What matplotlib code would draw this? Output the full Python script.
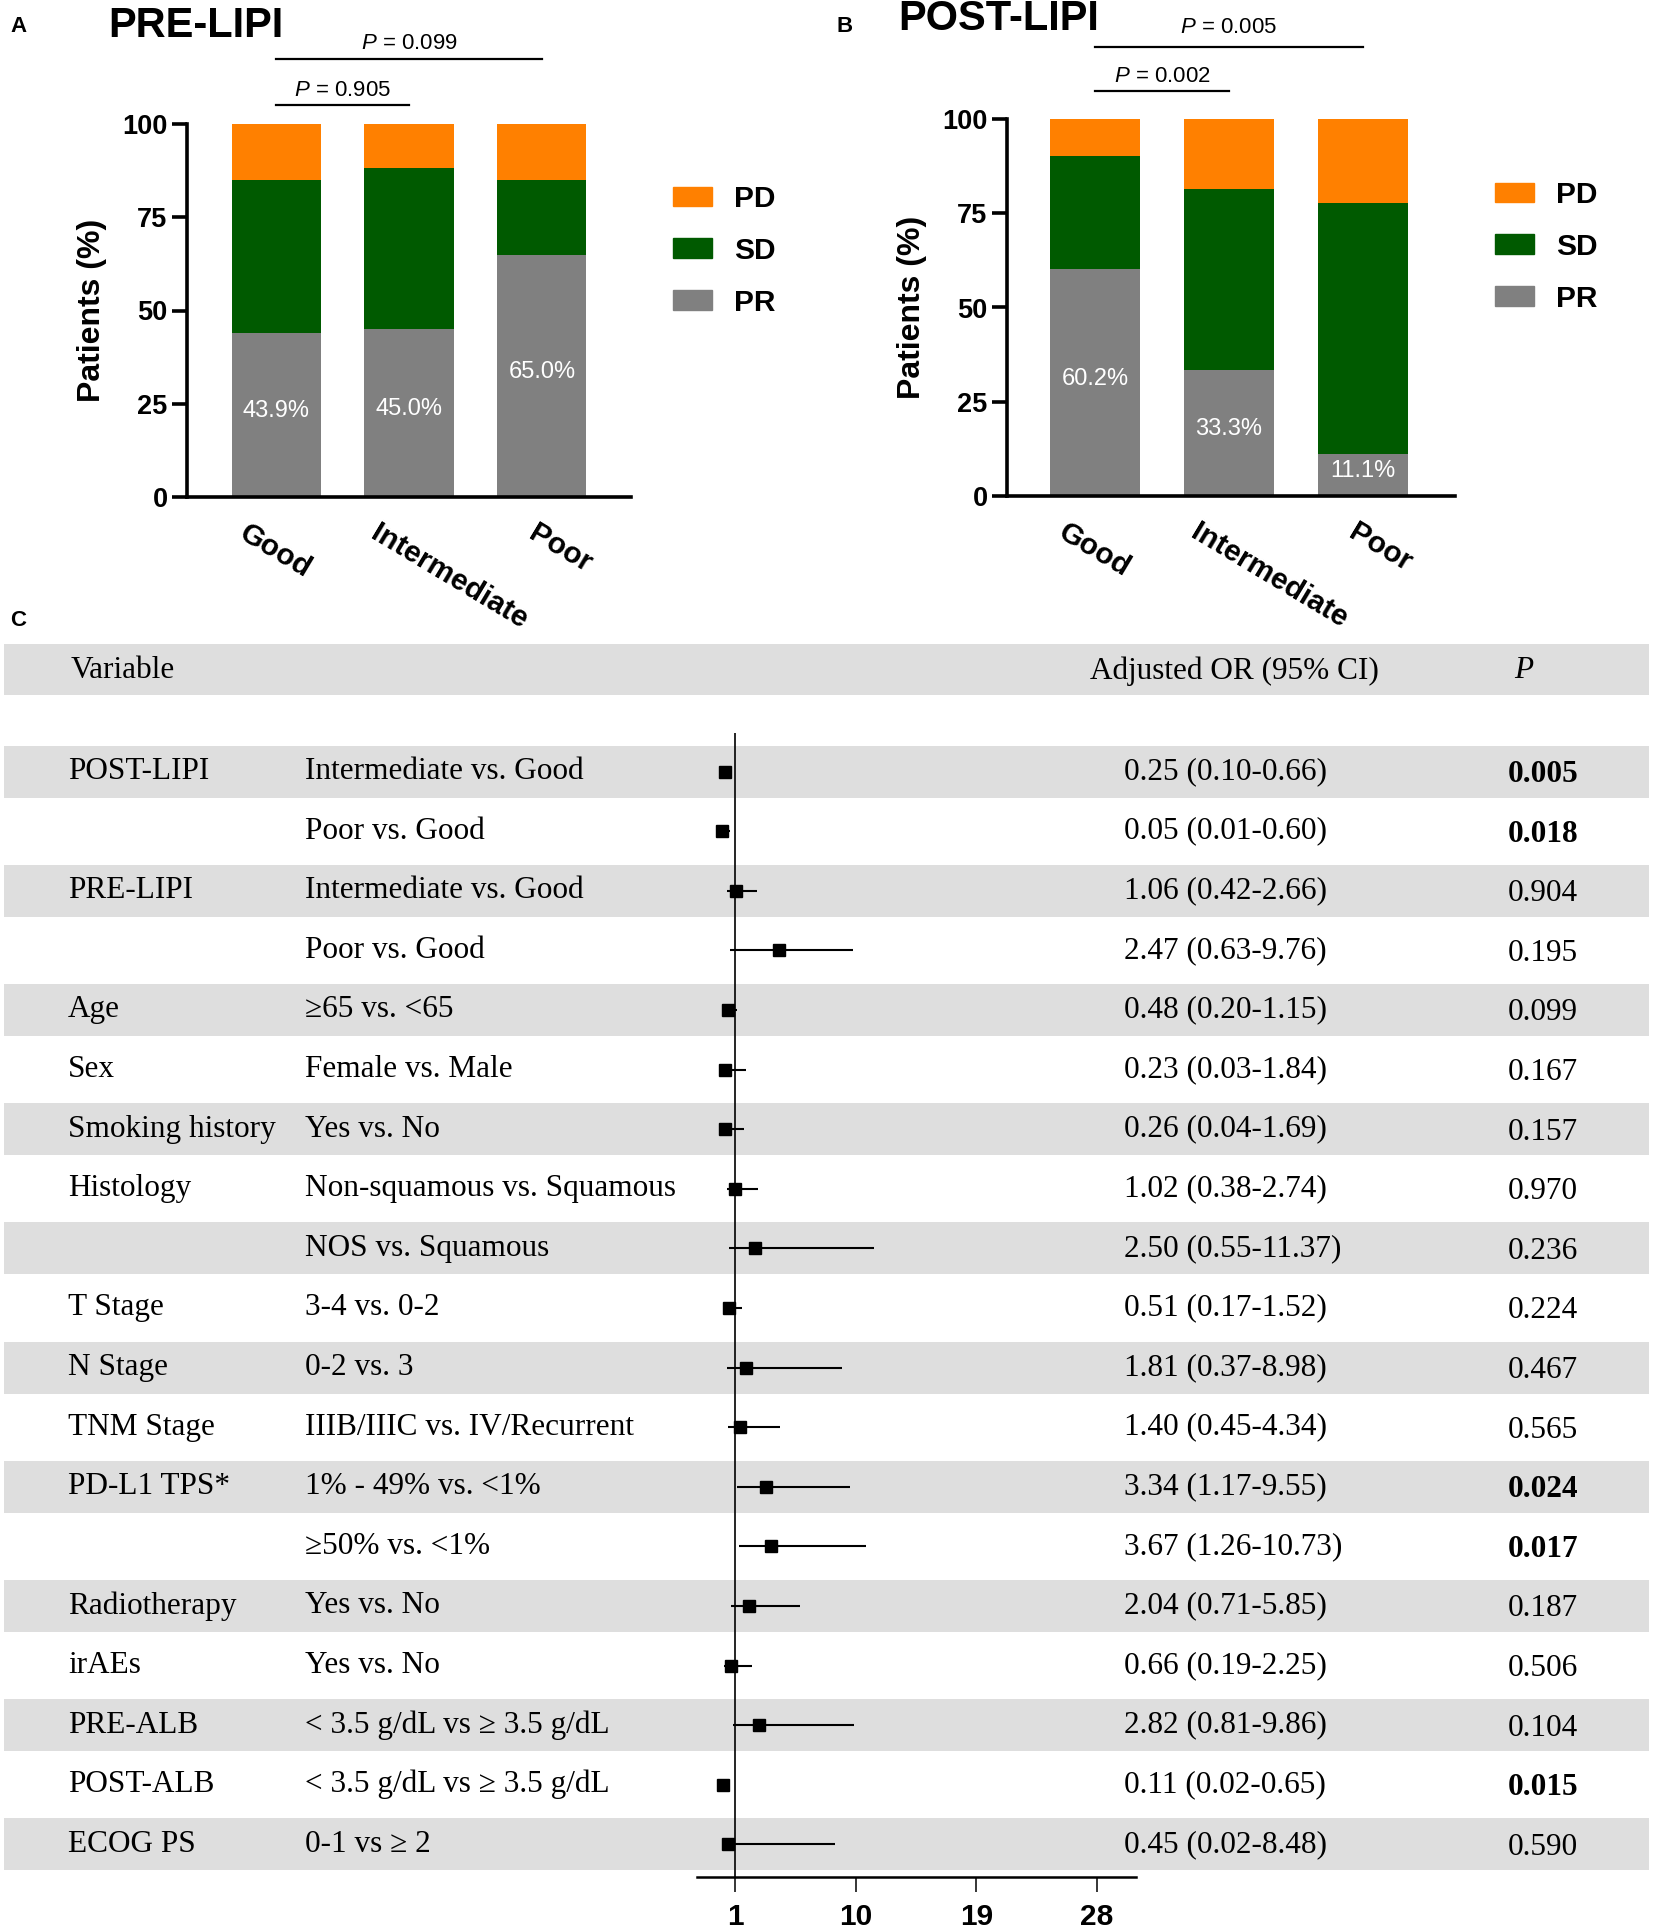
import numpy as np
import matplotlib
matplotlib.use("Agg")
import matplotlib.pyplot as plt
from matplotlib.patches import Rectangle, Patch
from matplotlib.transforms import ScaledTranslation

W, H = 1654, 1932
plt.rcParams.update({"font.family": ["Liberation Sans", "DejaVu Sans"],
                     "mathtext.fontset": "custom",
                     "mathtext.it": "Liberation Sans:italic",
                     "mathtext.rm": "Liberation Sans"})

# ---- panel A / B data (percent of patients) ----
groups = ["Good", "Intermediate", "Poor"]
pre_pr = [43.9, 45.0, 65.0]
pre_sd = [41.0, 43.1, 20.0]
pre_pd = [15.1, 11.9, 15.0]
post_pr = [60.2, 33.3, 11.1]
post_sd = [30.0, 48.1, 66.7]
post_pd = [9.8, 18.6, 22.2]
pre_pvals = [("0.905", 0, 1), ("0.099", 0, 2)]
post_pvals = [("0.002", 0, 1), ("0.005", 0, 2)]

# ---- panel C data ----
var_names = ["POST-LIPI", "", "PRE-LIPI", "", "Age", "Sex", "Smoking history",
             "Histology", "", "T Stage", "N Stage", "TNM Stage", "PD-L1 TPS*", "",
             "Radiotherapy", "irAEs", "PRE-ALB", "POST-ALB", "ECOG PS"]
comparisons = ["Intermediate vs. Good", "Poor vs. Good", "Intermediate vs. Good",
               "Poor vs. Good", "≥65 vs. <65", "Female vs. Male", "Yes vs. No",
               "Non-squamous vs. Squamous", "NOS vs. Squamous", "3-4 vs. 0-2",
               "0-2 vs. 3", "IIIB/IIIC vs. IV/Recurrent", "1% - 49% vs. <1%",
               "≥50% vs. <1%", "Yes vs. No", "Yes vs. No",
               "< 3.5 g/dL vs ≥ 3.5 g/dL", "< 3.5 g/dL vs ≥ 3.5 g/dL", "0-1 vs ≥ 2"]
or_est = [0.25, 0.05, 1.06, 2.47, 0.48, 0.23, 0.26, 1.02, 2.50, 0.51, 1.81,
          1.40, 3.34, 3.67, 2.04, 0.66, 2.82, 0.11, 0.45]
ci_low = [0.10, 0.01, 0.42, 0.63, 0.20, 0.03, 0.04, 0.38, 0.55, 0.17, 0.37,
          0.45, 1.17, 1.26, 0.71, 0.19, 0.81, 0.02, 0.02]
ci_high = [0.66, 0.60, 2.66, 9.76, 1.15, 1.84, 1.69, 2.74, 11.37, 1.52, 8.98,
           4.34, 9.55, 10.73, 5.85, 2.25, 9.86, 0.65, 8.48]
p_vals = ["0.005", "0.018", "0.904", "0.195", "0.099", "0.167", "0.157", "0.970",
          "0.236", "0.224", "0.467", "0.565", "0.024", "0.017", "0.187", "0.506",
          "0.104", "0.015", "0.590"]
# square for PRE-LIPI poor sits at ~4.3 in the source plot, not at 2.47
or_mark = list(or_est)
or_mark[3] = 4.3

C_PD, C_SD, C_PR = "#FF8000", "#005A00", "#808080"
BAND = "#DEDEDE"


def rect(l, t, r, b):
    return [l / W, 1 - b / H, (r - l) / W, (b - t) / H]


fig = plt.figure(figsize=(W / 100, H / 100), dpi=100)


def stacked(box, pr, sd, pd_, pvals, line_y, text_y, xlim, leg_xy, ylab_pad):
    ax = fig.add_axes(rect(*box))
    x = np.arange(len(groups))
    ax.bar(x, pr, 0.67, color=C_PR)
    ax.bar(x, sd, 0.67, bottom=pr, color=C_SD)
    ax.bar(x, pd_, 0.67, bottom=np.add(pr, sd), color=C_PD)
    for i, v in enumerate(pr):
        ax.text(i, v / 2 + 1.0, f"{v:.1f}%", color="white", ha="center",
                va="center", fontsize=17)
    ax.set_xlim(*xlim)
    ax.set_ylim(0, 100)
    ax.set_yticks([0, 25, 50, 75, 100])
    for s in ["top", "right"]:
        ax.spines[s].set_visible(False)
    for s in ["left", "bottom"]:
        ax.spines[s].set_linewidth(2.6)
    ax.tick_params(axis="y", length=11, width=2.6, labelsize=19.5, pad=3)
    ax.tick_params(axis="x", length=0, pad=16)
    for lb in ax.get_yticklabels():
        lb.set_fontweight("bold")
    ax.set_xticks(x, groups, rotation=-31, ha="left", rotation_mode="anchor",
                  fontsize=21.5, fontweight="bold")
    for lb, dx in zip(ax.get_xticklabels(), [-27, -29, -4]):
        lb.set_transform(lb.get_transform() + ScaledTranslation(dx / 100, 0, fig.dpi_scale_trans))
    ax.set_ylabel("Patients (%)", fontsize=23, fontweight="bold", labelpad=ylab_pad)
    for (txt, a, b), ly, ty in zip(pvals, line_y, text_y):
        ax.plot([a, b], [ly, ly], color="black", lw=1.6, clip_on=False)
        ax.text((a + b) / 2, ty, r"$P$ = " + txt, ha="center", va="center",
                fontsize=16, clip_on=False)
    handles = [Patch(color=C_PD, label="PD"), Patch(color=C_SD, label="SD"),
               Patch(color=C_PR, label="PR")]
    ax.legend(handles=handles, loc="upper left",
              bbox_to_anchor=(leg_xy[0] / W, 1 - leg_xy[1] / H),
              bbox_transform=fig.transFigure, frameon=False,
              prop={"size": 21.5, "weight": "bold"}, handlelength=1.3,
              handleheight=0.65, handletextpad=0.75, labelspacing=0.8,
              borderpad=0, borderaxespad=0)
    return ax


stacked((187, 124, 631, 497), pre_pr, pre_sd, pre_pd, pre_pvals,
        [105.1, 117.4], [109.0, 121.6], (-0.67, 2.67), (673, 185), 11)
stacked((1007, 119, 1455, 496), post_pr, post_sd, post_pd, post_pvals,
        [107.4, 119.1], [111.4, 124.4], (-0.66, 2.69), (1495, 181), 11)

fig.text(108 / W, 1 - 26 / H, "PRE-LIPI", fontsize=30, fontweight="bold", va="center")
fig.text(898 / W, 1 - 19 / H, "POST-LIPI", fontsize=30, fontweight="bold", va="center")
for lab, (px, py) in zip("ABC", [(10, 27), (836, 27), (10, 621)]):
    fig.text(px / W, 1 - py / H, lab, fontsize=16, fontweight="bold", va="center")

# ---- panel C: table + forest plot ----
ROW0, PITCH = 771.5, 59.6


def row_of(px):
    return (px - ROW0) / PITCH


serif = ["Liberation Serif", "DejaVu Serif"]
FS = 22.5
tab = fig.add_axes(rect(0, 600, W, H))
tab.set_xlim(0, W)
tab.set_ylim(row_of(H), row_of(600))
tab.axis("off")
tab.add_patch(Rectangle((4, row_of(644)), W - 9, 51 / PITCH, color=BAND, lw=0, zorder=0))
for i in range(0, len(var_names), 2):
    tab.add_patch(Rectangle((4, i - 26 / PITCH), W - 9, 52 / PITCH, color=BAND, lw=0, zorder=0))
hy = row_of(671)
tab.text(71, hy, "Variable", family=serif, fontsize=FS, va="center")
tab.text(1234, hy, "Adjusted OR (95% CI)", family=serif, fontsize=FS, va="center", ha="center")
tab.text(1524, hy, "P", family=serif, fontsize=FS, va="center", ha="center", style="italic")
for i in range(len(var_names)):
    tab.text(68, i, var_names[i], family=serif, fontsize=FS, va="center")
    tab.text(305, i, comparisons[i], family=serif, fontsize=FS, va="center")
    tab.text(1124, i, f"{or_est[i]:.2f} ({ci_low[i]:.2f}-{ci_high[i]:.2f})",
             family=serif, fontsize=FS, va="center")
    tab.text(1508, i + 0.05, p_vals[i], family=serif, fontsize=FS, va="center",
             fontweight="bold" if float(p_vals[i]) < 0.05 else "normal")

fp = fig.add_axes(rect(697, 733, 1136, 1877))
fp.patch.set_visible(False)
rows = np.arange(len(or_est))
fp.hlines(rows, ci_low, ci_high, color="black", lw=1.5)
fp.plot(or_mark, rows, "s", color="black", ms=8.5)
fp.axvline(1, color="black", lw=1.2)
fp.set_xlim(-1.84, 30.9)
fp.set_ylim(row_of(1877), row_of(733))
for s in ["top", "right", "left"]:
    fp.spines[s].set_visible(False)
fp.spines["bottom"].set_linewidth(1.8)
fp.set_yticks([])
fp.set_xticks([1, 10, 19, 28])
fp.tick_params(axis="x", length=11, width=1.1, labelsize=21.5, pad=8)
for lb in fp.get_xticklabels():
    lb.set_fontweight("bold")

fig.savefig("out.png", dpi=100)
